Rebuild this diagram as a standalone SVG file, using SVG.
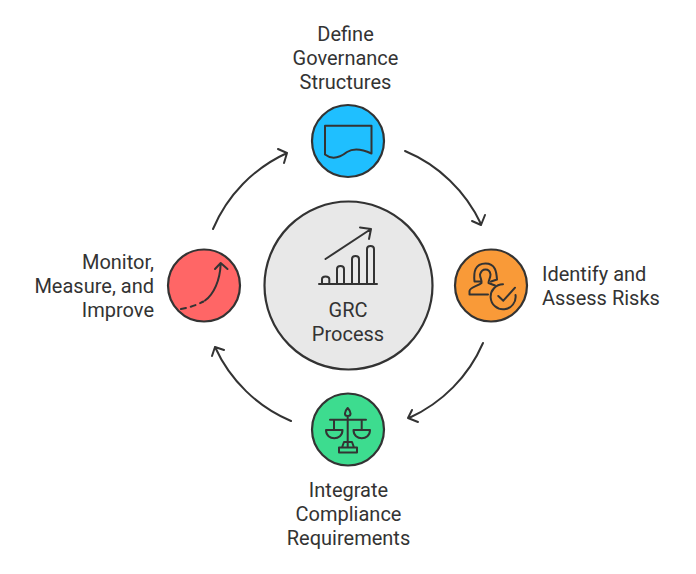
<svg xmlns="http://www.w3.org/2000/svg" width="696" height="574" viewBox="0 0 696 574">
<style>
.n{stroke:#333;stroke-width:2.200}
.i{fill:none;stroke:#333;stroke-width:2;stroke-linecap:round;stroke-linejoin:round}
.c{fill:none;stroke:#333;stroke-width:2;stroke-linecap:round;stroke-linejoin:round}
text{font-family:Roboto,"Liberation Sans",sans-serif;font-size:20px;fill:#333}
.m{text-anchor:middle}
.e{text-anchor:end}
</style>
<rect width="696" height="574" fill="#fff"/>
<g id="connectors">
<path class="c" d="M405 151A146 146 0 0 1 481 224M472 221L481 225L485 215"/>
<path class="c" d="M483 343A146 146 0 0 1 409 418M412 410L408 418L418 422"/>
<path class="c" d="M291 421A146 146 0 0 1 215 347M212 356L215 347L224 350"/>
<path class="c" d="M213 229A146 146 0 0 1 287 153M278 149L287 153L284 163"/>
</g>
<g id="center">
<circle class="n" cx="348.500" cy="285.500" r="84" fill="#e8e8e8"/>
<path class="i" d="M319 284H377M322 284V279Q322 276.500 325.500 276.500Q329.300 276.500 329.300 279V284M337 284V269Q337 266 340.500 266Q344 266 344 269V284M352 284V259Q352 256 355.500 256Q359 256 359 259V284M367 284V249Q367 246 370.500 246Q374 246 374 249V284M325.500 259L371 229M360 227.500L371 229L369 239"/>
<text class="m" x="348" y="317">GRC</text>
<text class="m" x="348" y="341">Process</text>
</g>
<g id="define">
<circle class="n" cx="348" cy="141" r="36" fill="#1fbfff"/>
<path class="i" d="M325 125.700H371.500V153.500C362 149 354 147.500 347 152C340 157.500 332 160 325 154.500Z"/>
<text class="m" x="345.500" y="41">Define</text>
<text class="m" x="345.500" y="65">Governance</text>
<text class="m" x="345.500" y="89">Structures</text>
</g>
<g id="identify">
<circle class="n" cx="491" cy="285.500" r="36" fill="#f99a38"/>
<path class="i" d="M481.500 281.500H474.500C473.500 272 475 263.500 485.500 263.500C495.500 263.500 496.500 272 497 279.500L491 281.500M480 274.500C481 271 483.500 269.500 485.500 269.500C487.500 269.500 490 271 490.500 274.500C490.500 278 488.500 280 488.500 283L495 285.500M480 274.500C480 278 482 280 481.500 283C478 286 470 287 469.500 291V294.500H488"/>
<path class="i" d="M503 284.300A12.500 12.500 0 1 0 515.500 295M498.300 296L503.300 300.700L515 287.700"/>
<text x="542" y="281">Identify and</text>
<text x="542" y="305">Assess Risks</text>
</g>
<g id="integrate">
<circle class="n" cx="348" cy="429.500" r="36" fill="#3ddc8f"/>
<path class="i" d="M347.700 408C344 412 344 416 347.700 416C351.500 416 351.500 412 347.700 408ZM347.700 416V447M330 419.700H366M334 420V430M361.700 420V430M326 430H342.500C342.500 441 326 441 326 430ZM353.500 430H370C370 441 353.500 441 353.500 430ZM342 447.500L344 442H352L354 447.500ZM339 447.500H357V452.500H339Z" />
<text class="m" x="348.500" y="497">Integrate</text>
<text class="m" x="348.500" y="521">Compliance</text>
<text class="m" x="348.500" y="545">Requirements</text>
</g>
<g id="monitor">
<circle class="n" cx="204" cy="285.500" r="36" fill="#ff6666"/>
<path class="i" d="M181 309Q193 307 203.500 301.500" stroke-dasharray="5 5"/>
<path class="i" d="M205 300.500C214 294 220 280 220.700 264M215 269L220.700 263L227.500 269"/>
<text class="e" x="154" y="269">Monitor,</text>
<text class="e" x="154" y="293">Measure, and</text>
<text class="e" x="154" y="317">Improve</text>
</g>
</svg>
